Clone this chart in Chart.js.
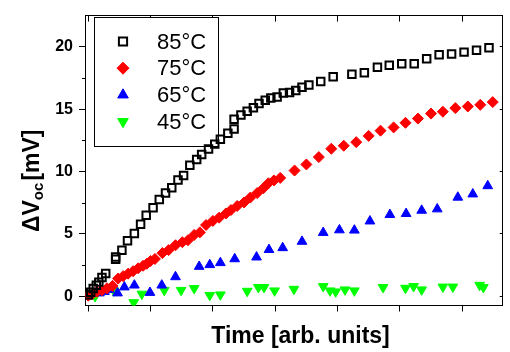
<!DOCTYPE html>
<html>
<head>
<meta charset="utf-8">
<script src="https://cdn.jsdelivr.net/npm/chart.js"></script>
<style>
  html, body { margin: 0; padding: 0; background: #fff; }
  #wrap { width: 510px; height: 352px; }
</style>
</head>
<body>
<div id="wrap"><canvas id="chart" width="510" height="352"></canvas></div>
<script>
// series data (x in arb. units, y in mV)
const t85 = [0.00,0.04,0.08,0.13,0.17,0.22,0.28,0.44,0.44,0.54,0.63,0.74,0.84,0.93,1.04,1.14,1.24,1.34,1.44,1.53,1.63,1.74,1.82,1.93,2.03,2.12,2.24,2.34,2.34,2.45,2.55,2.65,2.74,2.84,2.93,3.03,3.13,3.23,3.33,3.43,3.54,3.73,3.93,4.23,4.43,4.64,4.83,5.03,5.23,5.43,5.63,5.83,6.03,6.23,6.43];
const v85 = [0.12,0.31,0.61,0.87,1.13,1.5,1.83,2.97,3.15,3.68,4.45,5.04,5.77,6.5,7.09,7.76,8.27,8.7,9.33,9.69,10.5,10.97,11.36,11.81,12.2,12.6,13.07,13.42,14.2,14.53,14.84,15.12,15.46,15.71,15.9,15.98,16.3,16.35,16.51,16.77,16.95,17.22,17.6,17.8,17.93,18.37,18.53,18.64,18.64,19.04,19.37,19.43,19.58,19.74,19.94];

const t75 = [0.00,0.06,0.14,0.22,0.30,0.39,0.48,0.56,0.64,0.72,0.80,0.88,0.94,1.00,1.07,1.19,1.29,1.40,1.51,1.60,1.70,1.79,1.89,2.00,2.10,2.21,2.29,2.39,2.50,2.60,2.71,2.81,2.89,2.98,3.08,3.31,3.50,3.70,3.90,4.10,4.30,4.50,4.69,4.90,5.09,5.29,5.50,5.69,5.89,6.09,6.29,6.49];
const v75 = [0.04,0.16,0.35,0.47,0.63,0.83,1.42,1.61,1.81,2.01,2.24,2.44,2.6,2.83,2.99,3.46,3.7,4.09,4.33,4.49,4.92,5.12,5.71,6.04,6.3,6.64,6.91,7.24,7.52,7.91,8.27,8.66,9.06,9.29,9.49,10.08,10.57,11.16,11.83,12.07,12.36,12.86,13.28,13.54,13.91,14.25,14.65,14.8,15.09,15.22,15.35,15.57];

const t65 = [0.00,0.09,0.18,0.26,0.33,0.47,0.58,0.74,0.99,1.18,1.40,1.78,1.95,2.12,2.35,2.70,2.90,3.12,3.43,3.77,4.03,4.27,4.52,4.84,5.10,5.35,5.60,5.93,6.17,6.41];
const v65 = [0.0,0.25,0.25,0.37,0.53,0.25,0.73,0.88,0.29,0.88,1.55,2.38,2.52,2.68,2.99,3.13,3.73,3.88,4.39,5.1,5.31,5.29,6.02,6.54,6.62,6.88,6.99,7.93,8.19,8.85];

const t45 = [0.00,0.11,0.41,0.73,0.86,1.22,1.49,1.70,1.95,2.12,2.55,2.73,2.82,2.99,3.30,3.77,3.88,3.97,4.12,4.27,4.73,5.09,5.22,5.35,5.69,5.85,6.28,6.34];
const v45 = [0.08,-0.02,0.44,-0.5,0.18,0.48,0.48,0.63,0.08,0.12,0.41,0.71,0.71,0.44,0.57,0.79,0.44,0.36,0.52,0.44,0.71,0.65,0.79,0.52,0.75,0.75,0.89,0.71];

const seriesLabels = ["85°C", "75°C", "65°C", "45°C"];
const xTicks = [0, 1, 2, 3, 4, 5, 6];
const yTicks = [0, 5, 10, 15, 20];
const yMinorTicks = [2.5, 7.5, 12.5, 17.5];

const FONT = '"Liberation Sans", Arial, Helvetica, sans-serif';

function pts(xs, ys) {
    return xs.map((x, i) => ({ x: x, y: ys[i] }));
}

// legend box drawn inside the plot, as in the original figure
const boxLegend = {
    id: "boxLegend",
    beforeDatasetsDraw(chart) {
        const ctx = chart.ctx;
        ctx.save();
        ctx.fillStyle = "#fff";
        ctx.strokeStyle = "#000";
        ctx.lineWidth = 1;
        ctx.fillRect(94.5, 17.5, 124, 129);
        ctx.strokeRect(94.5, 17.5, 124, 129);
        chart.data.datasets.forEach((ds, i) => {
            const y = 41.5 + i * 26.7;
            ctx.fillStyle = ds.backgroundColor;
            ctx.strokeStyle = ds.borderColor;
            ctx.lineWidth = ds.borderWidth;
            Chart.helpers.drawPoint(ctx, {
                pointStyle: ds.pointStyle,
                rotation: ds.rotation || 0,
                radius: ds.pointRadius + 0.5,
                borderWidth: ds.borderWidth
            }, 123, y);
            ctx.fillStyle = "#000";
            ctx.font = "22px " + FONT;
            ctx.textAlign = "left";
            ctx.textBaseline = "middle";
            ctx.fillText(ds.label, 157, y + 1);
        });
        ctx.restore();
    }
};

// axis titles (y title has a subscript) and short minor ticks on the left axis
const axisTitles = {
    id: "axisTitles",
    afterDraw(chart) {
        const ctx = chart.ctx;
        const yScale = chart.scales.y;
        ctx.save();
        ctx.strokeStyle = "#000";
        ctx.lineWidth = 1;
        yMinorTicks.forEach(v => {
            const py = Math.round(yScale.getPixelForValue(v)) + 0.5;
            ctx.beginPath();
            ctx.moveTo(chart.chartArea.left, py);
            ctx.lineTo(chart.chartArea.left - 3, py);
            ctx.stroke();
        });

        ctx.fillStyle = "#000";
        ctx.textBaseline = "alphabetic";
        ctx.font = "bold 23px " + FONT;
        ctx.textAlign = "center";
        ctx.fillText("Time [arb. units]", 300.5, 343);

        ctx.translate(38.5, 232);
        ctx.rotate(-Math.PI / 2);
        ctx.textAlign = "left";
        ctx.font = "bold 23px " + FONT;
        ctx.fillText("ΔV", 0, 0);
        let w = ctx.measureText("ΔV").width;
        ctx.font = "bold 15px " + FONT;
        ctx.fillText("oc", w, 4);
        w += ctx.measureText("oc").width + 2;
        ctx.font = "bold 23px " + FONT;
        ctx.fillText("[mV]", w, 0);
        ctx.restore();
    }
};

const setTicks = arr => scale => { scale.ticks = arr.map(v => ({ value: v })); };

new Chart(document.getElementById("chart"), {
    type: "scatter",
    data: {
        datasets: [
            { label: seriesLabels[0], data: pts(t85, v85), pointStyle: "rect", pointRadius: 5.3,
              borderWidth: 2, borderColor: "#000", backgroundColor: "rgba(0,0,0,0)" },
            { label: seriesLabels[1], data: pts(t75, v75), pointStyle: "rectRot", pointRadius: 5.5,
              borderWidth: 1, borderColor: "#ff0000", backgroundColor: "#ff0000" },
            { label: seriesLabels[2], data: pts(t65, v65), pointStyle: "triangle", pointRadius: 5.6,
              borderWidth: 1, borderColor: "#0000ff", backgroundColor: "#0000ff" },
            { label: seriesLabels[3], data: pts(t45, v45), pointStyle: "triangle", rotation: 180,
              pointRotation: 180, pointRadius: 5.6, borderWidth: 1, borderColor: "#00ff00", backgroundColor: "#00ff00" }
        ]
    },
    options: {
        responsive: false,
        animation: false,
        devicePixelRatio: 1,
        layout: { padding: { top: 9, right: 0, bottom: 0, left: 0 } },
        plugins: { legend: { display: false }, tooltip: { enabled: false } },
        scales: {
            x: {
                type: "linear", position: "bottom", min: -0.052, max: 6.65,
                afterBuildTicks: setTicks(xTicks),
                ticks: { display: false },
                grid: { drawOnChartArea: false, tickLength: 6, tickColor: "#000" },
                border: { color: "#000", width: 1 },
                afterFit: s => { s.height = 46.5; }
            },
            xTop: {
                type: "linear", position: "top", min: -0.052, max: 6.65,
                afterBuildTicks: setTicks(xTicks),
                ticks: { display: false },
                grid: { drawOnChartArea: false, tickLength: -6, tickColor: "#000" },
                border: { color: "#000", width: 1 },
                afterFit: s => { s.height = 0; }
            },
            y: {
                type: "linear", position: "left", min: -0.745, max: 22.51,
                afterBuildTicks: setTicks(yTicks),
                ticks: { color: "#000", padding: 6, font: { family: FONT, size: 16, weight: "bold" } },
                grid: { drawOnChartArea: false, tickLength: 6, tickColor: "#000" },
                border: { color: "#000", width: 1 },
                afterFit: s => { s.width = 85; }
            },
            yRight: {
                type: "linear", position: "right", min: -0.745, max: 22.51,
                afterBuildTicks: setTicks(yTicks),
                ticks: { display: false },
                grid: { drawOnChartArea: false, tickLength: -3, tickColor: "#000" },
                border: { color: "#000", width: 1 },
                afterFit: s => { s.width = 0; }
            }
        }
    },
    plugins: [boxLegend, axisTitles]
});
</script>
</body>
</html>
